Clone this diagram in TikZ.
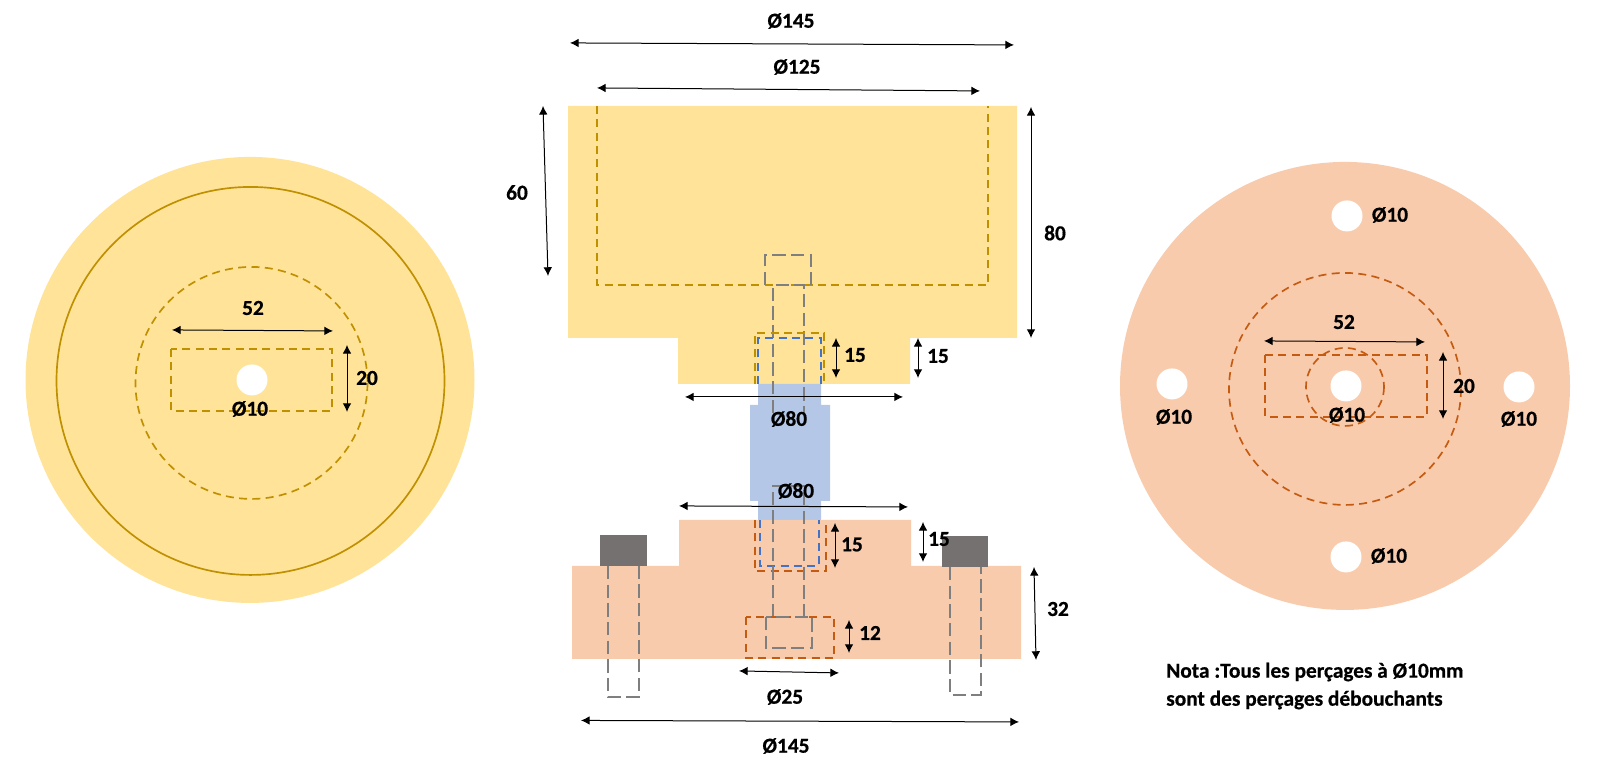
\documentclass[tikz,border=0pt]{standalone}
\usepackage{fontspec}
\setmainfont[BoldFeatures={FakeBold=0.6}]{Carlito}
\usetikzlibrary{arrows.meta}
\definecolor{yel}{HTML}{FFE399}
\definecolor{ora}{HTML}{F8CBAD}
\definecolor{blu}{HTML}{B4C7E7}
\definecolor{blk}{HTML}{767171}
\definecolor{dyel}{HTML}{BF9000}
\definecolor{dora}{HTML}{C55A11}
\definecolor{dblu}{HTML}{4472C4}
\definecolor{dgra}{HTML}{7F7F7F}
\tikzset{
  dim/.style={{Latex[length=6.5pt,width=6.5pt]}-{Latex[length=6.5pt,width=6.5pt]},line width=0.75pt,black},
  lab/.style={font=\fontsize{16pt}{18pt}\selectfont\bfseries,inner sep=0pt,text=black,yshift=0.7pt},
  dy/.style={draw=dyel,line width=1.25pt,dash pattern=on 6pt off 4pt},
  dr/.style={draw=dora,line width=1.25pt,dash pattern=on 6pt off 4pt},
  db/.style={draw=dblu,line width=1.25pt,dash pattern=on 6pt off 4pt},
  dg/.style={draw=dgra,line width=1.25pt,dash pattern=on 10pt off 4pt},
}
\begin{document}
\begin{tikzpicture}[x=0.75pt,y=-0.75pt]
\useasboundingbox (0,0) rectangle (1614,766);
\begin{scope}[yshift=-0.7pt]
% left disk
\fill[yel] (250,379) ellipse [x radius=224.5,y radius=223];
\draw[dyel,line width=1.25pt] (250.5,380) circle [radius=194];
\draw[dy] (251.5,382) circle [radius=116];
\draw[dy] (171,348) rectangle (332,410);
\fill[white] (252,379) circle [radius=15.5];
\draw[dim] (172,329) -- (333,330);
\draw[dim] (347,344) -- (347,411);
\node[lab] (l52) at (253,308) {52};
\node[lab] (l20) at (367,378) {20};
\node[lab] (l10) at (250,409) {Ø10};
% right disk
\fill[ora] (1345,385) ellipse [x radius=225,y radius=224];
\foreach \p in {(1347,215),(1172,383),(1519,386),(1346,556),(1346,385)}
  \fill[white] \p circle [radius=15.5];
\draw[dr] (1345,388) circle [radius=116];
\draw[dr] (1345,386) circle [radius=39];
\draw[dr] (1265,354) rectangle (1427,416);
\draw[dim] (1264,340) -- (1425,341);
\draw[dim] (1443,351) -- (1443,418);
\node[lab] (r52) at (1344,322) {52};
\node[lab] (r20) at (1464,386) {20};
\node[lab] (r10a) at (1390,215) {Ø10};
\node[lab] (r10b) at (1174,417) {Ø10};
\node[lab] (r10c) at (1347,415) {Ø10};
\node[lab] (r10d) at (1519,419) {Ø10};
\node[lab] (r10e) at (1389,556) {Ø10};
% centre: yellow part
\fill[yel] (568,105) -- (1017,105) -- (1017,337) -- (910,337) -- (910,383) -- (678,383) -- (678,337) -- (568,337) -- cycle;
% blue part
\fill[blu] (758,383) -- (821,383) -- (821,404) -- (830,404) -- (830,500) -- (821,500) -- (821,519) -- (758,519) -- (758,500) -- (750,500) -- (750,404) -- (758,404) -- cycle;
% orange part
\fill[ora] (572,565) -- (679,565) -- (679,519) -- (911,519) -- (911,565) -- (1021,565) -- (1021,658) -- (572,658) -- cycle;
% black blocks
\fill[blk] (600,534) rectangle (647,565);
\fill[blk] (942,535) rectangle (988,566);
% dashed hidden
\draw[dy] (597,105) -- (597,284) -- (988,284) -- (988,105);
\draw[dg] (765,284) -- (765,254) -- (811,254) -- (811,284);
\draw[dg] (773,412) -- (773,284) -- (804,284) -- (804,412);
\draw[dy] (755,383) -- (755,332) -- (824,332) -- (824,383);
\draw[db] (758,383) -- (758,337) -- (821,337) -- (821,383);
\draw[dr] (755,519) -- (755,570) -- (826,570) -- (826,519);
\draw[db] (760,519) -- (760,565) -- (819,565) -- (819,519);
\draw[dg] (773,616) -- (773,485) -- (804,485) -- (804,616);
\draw[dr] (746,616) rectangle (834,657);
\draw[dg] (766,616) rectangle (812,647);
\draw[dg] (608,565) -- (608,696) -- (639,696) -- (639,565);
\draw[dg] (950,566) -- (950,694) -- (981,694) -- (981,566);
% dims
\draw[dim] (570,42) -- (1014,44);
\draw[dim] (597,87) -- (980,90);
\draw[dim] (543,105) -- (548,275);
\draw[dim] (1031,106) -- (1031,337);
\draw[dim] (836,337) -- (836,377);
\draw[dim] (918,337) -- (918,377);
\draw[dim] (685,396) -- (903,396);
\draw[dim] (679,505) -- (908,506);
\draw[dim] (835,522) -- (835,567);
\draw[dim] (923,521) -- (923,561);
\draw[dim] (1034,566) -- (1036,659);
\draw[dim] (849,619) -- (849,652);
\draw[dim] (739,670) -- (839,672);
\draw[dim] (581,719.5) -- (1019,721);
% labels
\node[lab] (a) at (791,21) {Ø145};
\node[lab] (b) at (797,67) {Ø125};
\node[lab] (c) at (517,192.5) {60};
\node[lab] (d) at (1055,233) {80};
\node[lab] (e) at (855,355) {15};
\node[lab] (f) at (938,356) {15};
\node[lab] (g) at (789,419) {Ø80};
\node[lab] (h) at (796,491) {Ø80};
\node[lab] (i) at (852,544.5) {15};
\node[lab] (j) at (939,539) {15};
\node[lab] (k) at (1058,609) {32};
\node[lab] (m) at (870,633) {12};
\node[lab] (n) at (785,697) {Ø25};
\node[lab] (o) at (786,746) {Ø145};
\node[lab,anchor=west] (p) at (1166,672) {Nota :Tous les perçages à Ø10mm};
\node[lab,anchor=west] (q) at (1166,700) {sont des perçages débouchants};
\end{scope}
\end{tikzpicture}
\end{document}
